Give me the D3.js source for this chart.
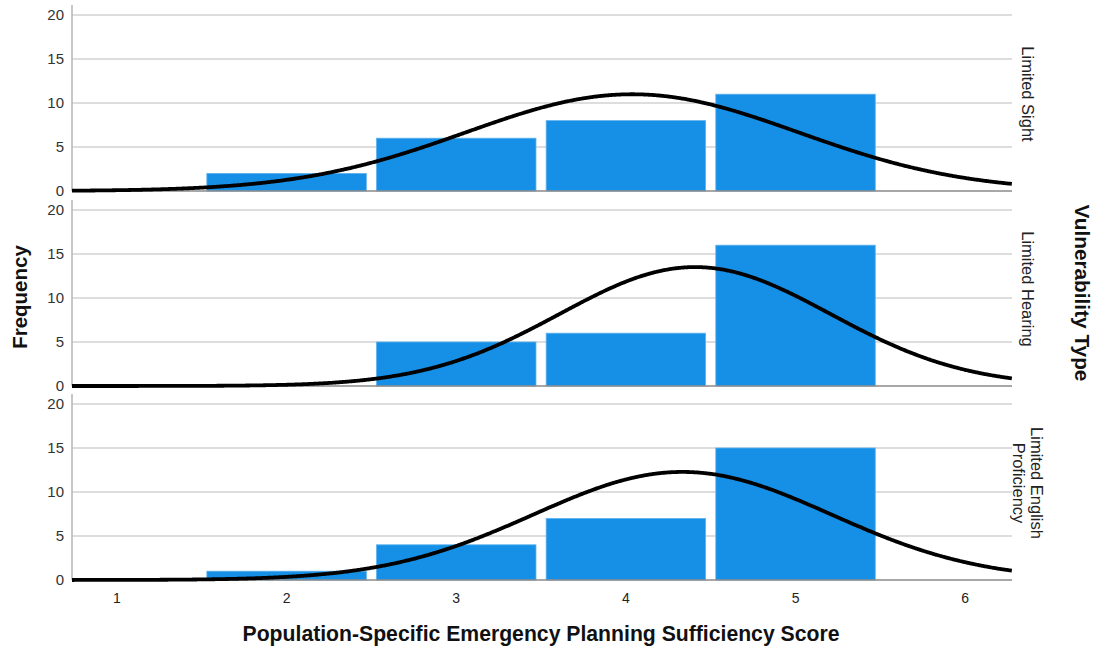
<!DOCTYPE html>
<html>
<head>
<meta charset="utf-8">
<script src="https://cdn.jsdelivr.net/npm/d3@7"></script>
<style>
  html, body { margin: 0; padding: 0; background: #fff; }
  svg { display: block; font-family: "Liberation Sans", Arial, sans-serif; }
</style>
</head>
<body>
<svg id="chart" width="1096" height="649"></svg>
<script>
// Histogram of sufficiency scores, one panel per vulnerability type
const panels = ["Limited Sight", "Limited Hearing", "Limited English Proficiency"];
const panelLines = [["Limited Sight"], ["Limited Hearing"], ["Limited English", "Proficiency"]];
const scores = [1, 2, 3, 4, 5];
const sightCounts = [0, 2, 6, 8, 11];
const hearingCounts = [0, 0, 5, 6, 16];
const englishCounts = [0, 1, 4, 7, 15];
const seriesCounts = [sightCounts, hearingCounts, englishCounts];
const xTicks = [1, 2, 3, 4, 5, 6];
const yTicks = [0, 5, 10, 15, 20];

const svg = d3.select("#chart");
const left = 72, right = 1012;
const panelTops = [5, 200, 394];
const panelH = 186;

const x = d3.scaleLinear().domain([0.735, 6.276]).range([left, right]);
const barHalf = 0.47;

// Fitted normal curve scaled to the histogram (bin width 1)
function normalCurve(counts) {
  const n = d3.sum(counts);
  const mean = d3.sum(counts.map((c, i) => c * scores[i])) / n;
  const ss = d3.sum(counts.map((c, i) => c * (scores[i] - mean) ** 2));
  const sd = Math.sqrt(ss / (n - 1));
  const xs = d3.range(0.735, 6.2765, 0.01);
  return xs.map(v => [v, n / (sd * Math.sqrt(2 * Math.PI)) * Math.exp(-0.5 * ((v - mean) / sd) ** 2)]);
}

panels.forEach((name, p) => {
  const top = panelTops[p];
  const y = d3.scaleLinear().domain([0, 20]).range([top + panelH, top + 10]);
  const g = svg.append("g");

  // grid lines
  g.selectAll("line.grid").data(yTicks.filter(t => t > 0)).join("line")
    .attr("x1", left).attr("x2", right)
    .attr("y1", d => y(d)).attr("y2", d => y(d))
    .attr("stroke", "#d2d2d2").attr("stroke-width", 1.5);

  // y tick labels
  g.selectAll("text.yt").data(yTicks).join("text")
    .attr("x", 64).attr("y", d => y(d))
    .attr("dy", "0.36em").attr("text-anchor", "end")
    .attr("font-size", 15).attr("fill", "#333")
    .text(d => d);

  // bars
  const counts = seriesCounts[p];
  g.selectAll("rect.bar").data(scores.map((s, i) => ({ s, c: counts[i] })).filter(d => d.c > 0)).join("rect")
    .attr("x", d => x(d.s - barHalf))
    .attr("width", d => x(d.s + barHalf) - x(d.s - barHalf))
    .attr("y", d => y(d.c))
    .attr("height", d => y(0) - y(d.c))
    .attr("fill", "#1590e6")
    .attr("stroke", "#5fb2ee").attr("stroke-width", 0.8);

  // baseline and left axis
  g.append("line").attr("x1", left).attr("x2", right)
    .attr("y1", y(0)).attr("y2", y(0))
    .attr("stroke", "#8a8a8a").attr("stroke-width", 1.5);
  g.append("line").attr("x1", left).attr("x2", left)
    .attr("y1", top).attr("y2", y(0))
    .attr("stroke", "#b4b4b4").attr("stroke-width", 1.5);

  // normal curve
  const line = d3.line().x(d => x(d[0])).y(d => y(d[1])).curve(d3.curveBasis);
  g.append("path").datum(normalCurve(counts))
    .attr("d", line).attr("fill", "none")
    .attr("stroke", "#000").attr("stroke-width", 3.8)
    .attr("stroke-linecap", "butt");

  // panel label
  const cy = top + panelH / 2 - 4;
  const lines = panelLines[p];
  const lbl = g.append("text")
    .attr("transform", `translate(${1028},${cy}) rotate(90)`)
    .attr("text-anchor", "middle").attr("font-size", 16.5).attr("fill", "#222");
  lines.forEach((t, i) => {
    lbl.append("tspan").attr("x", 0)
      .attr("y", (i - (lines.length - 1) / 2) * 18 + 6)
      .text(t);
  });
});

// x tick labels
svg.selectAll("text.xt").data(xTicks).join("text")
  .attr("x", d => x(d)).attr("y", 603)
  .attr("text-anchor", "middle").attr("font-size", 14).attr("fill", "#222")
  .text(d => d);

// axis titles
svg.append("text").attr("x", 541).attr("y", 641)
  .attr("text-anchor", "middle").attr("font-size", 21.2).attr("font-weight", "bold")
  .attr("fill", "#111")
  .text("Population-Specific Emergency Planning Sufficiency Score");

svg.append("text").attr("transform", "translate(27,297) rotate(-90)")
  .attr("text-anchor", "middle").attr("font-size", 20.5).attr("font-weight", "bold")
  .attr("fill", "#111").text("Frequency");

svg.append("text").attr("transform", "translate(1075,293) rotate(90)")
  .attr("text-anchor", "middle").attr("font-size", 20.8).attr("font-weight", "bold")
  .attr("fill", "#111").text("Vulnerability Type");
</script>
</body>
</html>
